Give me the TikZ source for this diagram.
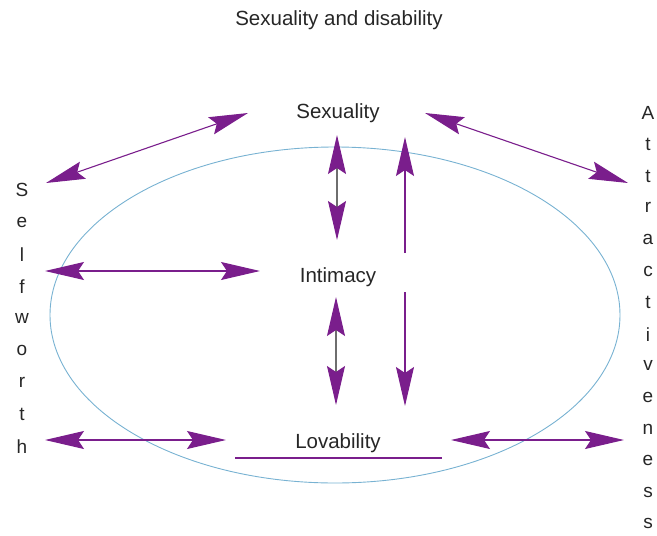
\documentclass[tikz,border=0pt]{standalone}
\usepackage{fontspec}
\setmainfont{Liberation Sans}
\usetikzlibrary{arrows.meta}
\definecolor{purp}{RGB}{122,30,140}
\definecolor{ellblue}{RGB}{120,178,210}
\definecolor{shaftgray}{RGB}{110,110,110}
\tikzset{
  lbl/.style={font=\fontsize{20.5pt}{22pt}\selectfont, text=black!85, inner sep=0pt},
  letter/.style={font=\fontsize{19pt}{20pt}\selectfont, text=black!85, inner sep=0pt},
  ptip/.tip={Stealth[length=39pt,width=18pt,inset=6pt,color=purp]},
  dbl/.style={ptip-ptip, draw=purp, line width=1.1pt},
  dblgray/.style={ptip-ptip, draw=shaftgray, line width=1.1pt},
  sgl/.style={-ptip, draw=purp, line width=1.1pt},
}
\begin{document}
\begin{tikzpicture}[x=1pt,y=-1pt]
\useasboundingbox (0,0) rectangle (657,536);
% ellipse
\draw[ellblue, line width=0.9pt] (335,315) ellipse [x radius=285, y radius=168];
% title and labels
\node[lbl] (title) at (339,20) {Sexuality and disability};
\node[lbl] (sex) at (338,113) {Sexuality};
\node[lbl] (int) at (338,277) {Intimacy};
\node[lbl] (lov) at (338,443) {Lovability};
% vertical words
\foreach \ch [count=\i from 0] in {S,e,l,f,w,o,r,t,h}
  \node[letter] (sw\i) at (22,{190+32.1*\i}) {\ch};
\foreach \ch [count=\i from 0] in {A,t,t,r,a,c,t,i,v,e,n,e,s,s}
  \node[letter] (at\i) at (648,{113+31.6*\i}) {\ch};
% coordinates
\coordinate (ula) at (46,183);
\coordinate (ulb) at (248,113);
\coordinate (ura) at (425,113);
\coordinate (urb) at (628,183);
\coordinate (mla) at (45,271);
\coordinate (mlb) at (260,271);
\coordinate (bla) at (45,440);
\coordinate (blb) at (226,440);
\coordinate (bra) at (451,440);
\coordinate (brb) at (624,440);
\coordinate (v1a) at (337,135);
\coordinate (v1b) at (337,240);
\coordinate (v2a) at (336,297);
\coordinate (v2b) at (336,405);
\coordinate (upa) at (405,253);
\coordinate (upb) at (405,137);
\coordinate (dna) at (405,292);
\coordinate (dnb) at (405,406);
\coordinate (ulnA) at (235,458);
\coordinate (ulnB) at (442,458);
% connectors
\draw[dbl] (ula) -- (ulb);
\draw[dbl] (ura) -- (urb);
\draw[dbl] (mla) -- (mlb);
\draw[dbl] (bla) -- (blb);
\draw[dbl] (bra) -- (brb);
\draw[dblgray] (v1a) -- (v1b);
\draw[dblgray] (v2a) -- (v2b);
\draw[sgl] (upa) -- (upb);
\draw[sgl] (dna) -- (dnb);
\draw[purp, line width=1.4pt] (ulnA) -- (ulnB);
\end{tikzpicture}
\end{document}
